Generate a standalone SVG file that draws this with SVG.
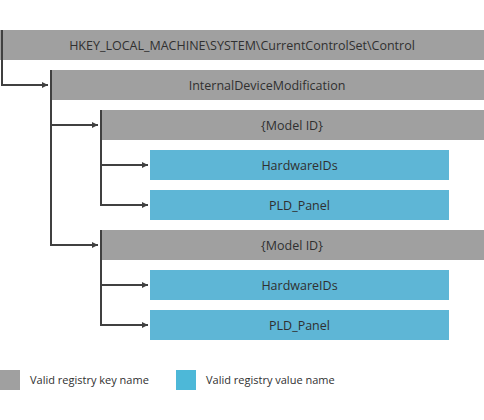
<svg xmlns="http://www.w3.org/2000/svg" width="484" height="420" viewBox="0 0 484 420">
<style>
.key{fill:#a0a0a0}
.val{fill:#5eb6d6}
.lbl{font-family:"Open Sans","Noto Sans",sans-serif;font-size:12.5px;fill:#303030;text-anchor:middle}
.leg{font-family:"Open Sans","Noto Sans",sans-serif;font-size:11px;fill:#303030}
.con{fill:none;stroke:#404040;stroke-width:2}
</style>
<defs>
<marker id="ah" viewBox="0 0 6 6" refX="6" refY="3" markerWidth="6" markerHeight="6" markerUnits="userSpaceOnUse" orient="auto">
<path d="M0,0 L6,3 L0,6 z" fill="#404040"/>
</marker>
</defs>
<g id="connectors">
<path class="con" d="M2,30 V85 H48" marker-end="url(#ah)"/>
<path class="con" d="M51,70 V245 H98" marker-end="url(#ah)"/>
<path class="con" d="M51,125 H98" marker-end="url(#ah)"/>
<path class="con" d="M101,110 V205 H148" marker-end="url(#ah)"/>
<path class="con" d="M101,165 H148" marker-end="url(#ah)"/>
<path class="con" d="M101,230 V325 H148" marker-end="url(#ah)"/>
<path class="con" d="M101,285 H148" marker-end="url(#ah)"/>
</g>
<g id="root"><rect class="key" x="0" y="30" width="484" height="30"/><line class="con" x1="2" y1="30" x2="2" y2="60"/><text class="lbl" x="242" y="49.5">HKEY_LOCAL_MACHINE\SYSTEM\CurrentControlSet\Control</text></g>
<g id="idm"><rect class="key" x="50" y="70" width="434" height="30"/><line class="con" x1="51" y1="70" x2="51" y2="100"/><text class="lbl" x="267" y="89.5">InternalDeviceModification</text></g>
<g id="model1"><rect class="key" x="100" y="110" width="384" height="30"/><line class="con" x1="101" y1="110" x2="101" y2="140"/><text class="lbl" x="292" y="129.5">{Model ID}</text></g>
<g id="hw1"><rect class="val" x="150" y="150" width="299" height="30"/><text class="lbl" x="299.5" y="169.5">HardwareIDs</text></g>
<g id="pld1"><rect class="val" x="150" y="190" width="299" height="30"/><text class="lbl" x="299.5" y="209.5">PLD_Panel</text></g>
<g id="model2"><rect class="key" x="100" y="230" width="384" height="30"/><line class="con" x1="101" y1="230" x2="101" y2="260"/><text class="lbl" x="292" y="249.5">{Model ID}</text></g>
<g id="hw2"><rect class="val" x="150" y="270" width="299" height="30"/><text class="lbl" x="299.5" y="289.5">HardwareIDs</text></g>
<g id="pld2"><rect class="val" x="150" y="310" width="299" height="30"/><text class="lbl" x="299.5" y="329.5">PLD_Panel</text></g>
<g id="legend-key"><rect class="key" x="0" y="370" width="20" height="20"/><text class="leg" x="30" y="384">Valid registry key name</text></g>
<g id="legend-value"><rect x="176" y="370" width="20" height="20" fill="#4db8d8"/><text class="leg" x="206" y="384">Valid registry value name</text></g>
</svg>
